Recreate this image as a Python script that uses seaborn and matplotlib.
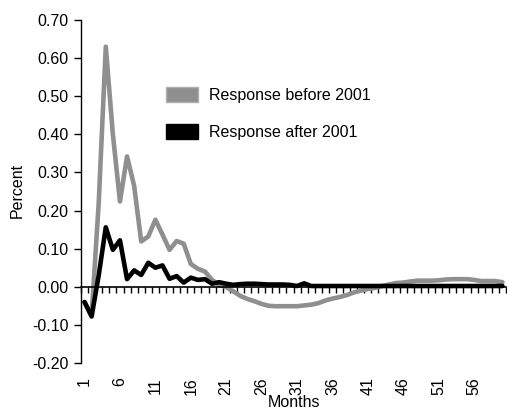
import numpy as np
import pandas as pd
import matplotlib
matplotlib.use("Agg")
import matplotlib.pyplot as plt
from matplotlib.patches import Patch
from matplotlib.ticker import FuncFormatter
import seaborn as sns

months = list(range(1, 61))

response_before = [
    -0.040, -0.075, 0.220, 0.630, 0.400, 0.224, 0.342, 0.265, 0.119, 0.132,
    0.176, 0.137, 0.097, 0.120, 0.113, 0.060, 0.047, 0.040, 0.018, 0.005,
    -0.001, -0.012, -0.024, -0.032, -0.038, -0.045, -0.050, -0.051, -0.051, -0.051,
    -0.051, -0.049, -0.047, -0.043, -0.036, -0.031, -0.027, -0.022, -0.015, -0.010,
    -0.006, -0.003, 0.002, 0.006, 0.010, 0.011, 0.014, 0.016, 0.016, 0.016,
    0.017, 0.019, 0.020, 0.020, 0.020, 0.018, 0.015, 0.015, 0.015, 0.012,
]

response_after = [
    -0.040, -0.078, 0.030, 0.156, 0.097, 0.122, 0.020, 0.043, 0.031, 0.063,
    0.050, 0.056, 0.021, 0.028, 0.011, 0.024, 0.018, 0.020, 0.008, 0.012,
    0.008, 0.005, 0.007, 0.008, 0.008, 0.007, 0.006, 0.006, 0.006, 0.005,
    0.002, 0.009, 0.002, 0.002, 0.002, 0.002, 0.002, 0.002, 0.002, 0.002,
    0.002, 0.002, 0.002, 0.002, 0.002, 0.002, 0.002, 0.002, 0.002, 0.002,
    0.002, 0.002, 0.002, 0.002, 0.002, 0.002, 0.002, 0.002, 0.002, 0.002,
]

series_names = ["Response before 2001", "Response after 2001"]
series_colors = ["#8f8f8f", "#000000"]
month_labels = [str(m) for m in range(1, 57, 5)]
y_ticks = [-0.2, -0.1, 0.0, 0.1, 0.2, 0.3, 0.4, 0.5, 0.6, 0.7]

df = pd.DataFrame({
    "Months": months * 2,
    "Percent": response_before + response_after,
    "Series": [series_names[0]] * len(months) + [series_names[1]] * len(months),
})

sns.set_style("white")
plt.rcParams["font.family"] = ["Liberation Sans", "DejaVu Sans"]
plt.rcParams["axes.unicode_minus"] = False
plt.rcParams["text.color"] = "black"
plt.rcParams["xtick.color"] = "black"
plt.rcParams["ytick.color"] = "black"

FS = 11.5
W, H = 507, 409
fig = plt.figure(figsize=(W / 100, H / 100), dpi=100)
left, right, top, bottom = 81, 506, 20, 363
ax = fig.add_axes([left / W, 1 - bottom / H, (right - left) / W, (bottom - top) / H])

sns.lineplot(data=df, x="Months", y="Percent", hue="Series",
             palette=dict(zip(series_names, series_colors)),
             linewidth=3.3, ax=ax, legend=False, sort=False)

ax.set_xlim(0.5, 60.5)
ax.set_ylim(-0.2, 0.7)
ax.set_yticks(y_ticks)
ax.yaxis.set_major_formatter(FuncFormatter(lambda v, p: f"{v:.2f}"))
ax.tick_params(axis="y", direction="out", length=5, width=1, labelsize=FS,
               pad=4, colors="black", labelcolor="black", left=True)

for s in ["top", "right"]:
    ax.spines[s].set_visible(False)
ax.spines["left"].set_color("black")
ax.spines["left"].set_linewidth(1)
ax.spines["bottom"].set_position(("data", 0))
ax.spines["bottom"].set_color("black")
ax.spines["bottom"].set_linewidth(1.2)

# category-boundary ticks on the zero line
ax.set_xticks(np.arange(0.5, 61, 1.0))
ax.tick_params(axis="x", direction="out", length=4, width=1, labelbottom=False,
               bottom=True, colors="black")
ax.set_xlabel("")
ax.set_ylabel("")

# month labels at the bottom of the plot area
sec = ax.secondary_xaxis(0)
sec.set_xticks(list(range(1, 57, 5)))
sec.set_xticklabels(month_labels, rotation=90, fontsize=FS, color="black")
sec.tick_params(length=0, pad=10, labelcolor="black")
sec.spines["bottom"].set_visible(False)

fig.text(294 / W, 1 - 395 / H, "Months", ha="center", va="top", fontsize=FS,
         color="black")
fig.text(17 / W, 1 - 190 / H, "Percent", ha="center", va="center",
         rotation=90, fontsize=FS, color="black")

handles = [Patch(facecolor=c, edgecolor=c if c == "#000000" else "#b0b0b0",
                 linewidth=1) for c in series_colors]
leg = ax.legend(handles, series_names, loc="upper left", frameon=False,
                bbox_to_anchor=(166 / W, 1 - 87 / H), bbox_transform=fig.transFigure,
                fontsize=FS, handlelength=2.0, handleheight=1.1,
                handletextpad=0.7, labelspacing=1.3, borderpad=0, borderaxespad=0)
for t in leg.get_texts():
    t.set_color("black")

fig.savefig("out.png", dpi=100)
